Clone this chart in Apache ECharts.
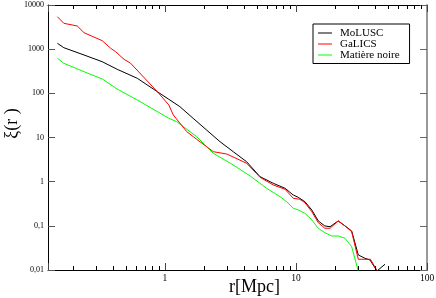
<!DOCTYPE html>
<html>
<head>
<meta charset="utf-8">
<script src="https://cdn.jsdelivr.net/npm/echarts@6/dist/echarts.min.js"></script>
<style>html,body{margin:0;padding:0;background:#fff;}#c{width:436px;height:298px;}</style>
</head>
<body>
<div id="c"></div>
<script>
// ---- data ----
var rBlack  = [0.151, 0.169, 0.241, 0.332, 0.432, 0.615, 0.874, 1.07, 1.30, 1.64, 2.63, 3.32, 4.20, 5.31, 6.71, 8.25, 9.53, 10.4, 11.7, 13.2, 14.8, 16.6, 18.2, 21.0, 23.7, 26.6, 29.9, 33.6, 36.7, 41.5, 47.8];
var xiBlack = [1358, 1080, 738, 520, 350, 219, 109, 73.3, 49.9, 27.2, 8.04, 4.77, 2.83, 1.30, 0.918, 0.708, 0.499, 0.443, 0.352, 0.229, 0.129, 0.0993, 0.0957, 0.129, 0.0993, 0.0766, 0.0219, 0.0184, 0.0169, 0.0095, 0.0135];

var rRed  = [0.151, 0.169, 0.214, 0.241, 0.332, 0.385, 0.420, 0.487, 0.547, 0.874, 1.07, 1.157, 1.465, 1.746, 2.34, 2.96, 4.20, 5.31, 6.71, 8.25, 9.53, 10.7, 11.7, 13.2, 14.8, 16.6, 18.2, 21.0, 23.7, 26.6, 29.9, 33.6, 37.0, 41.7, 47.8];
var xiRed = [5430, 3850, 3350, 2360, 1556, 1047, 877, 590, 479, 109, 54.5, 32.4, 13.6, 9.11, 4.77, 4.23, 2.61, 1.26, 0.841, 0.673, 0.421, 0.399, 0.334, 0.209, 0.118, 0.0881, 0.0881, 0.129, 0.0993, 0.0738, 0.0175, 0.0175, 0.0175, 0.0095, 0.005];

var rGreen  = [0.151, 0.169, 0.241, 0.332, 0.432, 0.615, 1.07, 1.23, 1.746, 2.34, 3.32, 4.46, 5.97, 7.55, 8.49, 9.53, 10.4, 11.7, 13.2, 14.8, 16.6, 18.7, 21.0, 23.7, 26.6, 29.9, 33.6];
var xiGreen = [621, 479, 309, 211, 125, 70.6, 27.2, 22.8, 10.4, 4.39, 2.39, 1.35, 0.708, 0.457, 0.352, 0.250, 0.229, 0.192, 0.136, 0.0881, 0.070, 0.0589, 0.0589, 0.0522, 0.0337, 0.0095, 0.004];

var seriesNames = ['MoLUSC', 'GaLICS', 'Matière noire'];
var xMinorTicks = [0.2, 0.3, 0.4, 0.5, 0.6, 0.7, 0.8, 0.9, 2, 3, 4, 5, 6, 7, 8, 9, 20, 30, 40, 50, 60, 70, 80, 90];
var xMin = 0.128, xMax = 100, yMin = 0.01, yMax = 10000;

function pairs(xs, ys) { return xs.map(function (x, i) { return [x, ys[i]]; }); }
function isDecade(v) { var l = Math.log10(v); return Math.abs(l - Math.round(l)) < 1e-6; }
function decLabel(v) {
  if (!isDecade(v)) return '';
  var e = Math.round(Math.log10(v));
  if (e >= 0) return String(Math.pow(10, e));
  return '0,' + '0'.repeat(-e - 1) + '1';
}

var font = 'Liberation Serif';
var chart = echarts.init(document.getElementById('c'), null, {renderer: 'canvas'});
chart.setOption({
  animation: false,
  backgroundColor: '#fff',
  grid: {left: 48, top: 5, right: 9, bottom: 28, containLabel: false, outerBoundsMode: 'none'},
  legend: {
    data: seriesNames,
    orient: 'vertical',
    left: 313, top: 24,
    padding: [3.5, 10, 3, 5],
    itemGap: 0,
    itemWidth: 14, itemHeight: 1,
    icon: 'rect',
    borderColor: '#000', borderWidth: 1,
    backgroundColor: '#fff',
    textStyle: {fontFamily: font, fontSize: 11, color: '#000', lineHeight: 10.5, padding: [0, 0, 0, 3]}
  },
  xAxis: [{
    type: 'log', min: xMin, max: xMax, position: 'bottom',
    name: 'r[Mpc]', nameLocation: 'middle', nameGap: 17, nameMoveOverlap: false,
    nameTextStyle: {fontFamily: font, fontSize: 18, color: '#000', padding: [0, 0, 0, 34], verticalAlign: 'middle'},
    axisLine: {lineStyle: {color: '#000', width: 1}},
    axisTick: {inside: true, length: 7, lineStyle: {color: '#444'}},
    axisLabel: {formatter: decLabel, fontFamily: font, fontSize: 9.5, color: '#000', margin: 3, showMinLabel: true, showMaxLabel: true},
    splitLine: {show: false}
  }, {
    type: 'log', min: xMin, max: xMax, position: 'top',
    axisLine: {lineStyle: {color: '#000', width: 1}},
    axisTick: {inside: true, length: 7, lineStyle: {color: '#444'}},
    axisLabel: {show: false},
    splitLine: {show: false}
  }],
  yAxis: [{
    type: 'log', min: yMin, max: yMax, position: 'left',
    name: 'ξ(r )', nameLocation: 'middle', nameGap: 36, nameRotate: 90, nameMoveOverlap: false,
    nameTextStyle: {fontFamily: font, fontSize: 18, color: '#000', verticalAlign: 'middle', padding: [0, 0, 0, 28]},
    axisLine: {lineStyle: {color: '#000', width: 1}},
    axisTick: {inside: true, length: 7, lineStyle: {color: '#555'}},
    axisLabel: {formatter: decLabel, fontFamily: font, fontSize: 8, color: '#000', margin: 4},
    splitLine: {show: false}
  }, {
    type: 'log', min: yMin, max: yMax, position: 'right',
    axisLine: {lineStyle: {color: '#999', width: 2}},
    axisTick: {inside: true, length: 7, lineStyle: {color: '#666'}},
    axisLabel: {show: false},
    splitLine: {show: false}
  }],
  series: [{
    name: seriesNames[0], type: 'line', data: pairs(rBlack, xiBlack),
    showSymbol: false, symbol: 'none', lineStyle: {color: '#000', width: 1}, itemStyle: {color: '#000'}, z: 3
  }, {
    name: seriesNames[1], type: 'line', data: pairs(rRed, xiRed),
    showSymbol: false, symbol: 'none', lineStyle: {color: '#ff0000', width: 1}, itemStyle: {color: '#ff0000'}, z: 4
  }, {
    name: seriesNames[2], type: 'line', data: pairs(rGreen, xiGreen),
    showSymbol: false, symbol: 'none', lineStyle: {color: '#00ff00', width: 1}, itemStyle: {color: '#00ff00'}, z: 2
  }, {
    name: 'minorTicks', type: 'custom', silent: true, z: 5,
    data: xMinorTicks.map(function (v) { return [v, 1]; }),
    encode: {x: 0, y: 1},
    renderItem: function (params, api) {
      var v = api.value(0);
      var b = api.coord([v, yMin]);
      var t = api.coord([v, yMax]);
      var x = Math.round(b[0]) + 0.5;
      return {type: 'group', children: [
        {type: 'line', shape: {x1: x, y1: b[1], x2: x, y2: b[1] - 4}, style: {stroke: '#000', lineWidth: 1}},
        {type: 'line', shape: {x1: x, y1: t[1], x2: x, y2: t[1] + 4}, style: {stroke: '#000', lineWidth: 1}}
      ]};
    }
  }]
});
</script>
</body>
</html>
